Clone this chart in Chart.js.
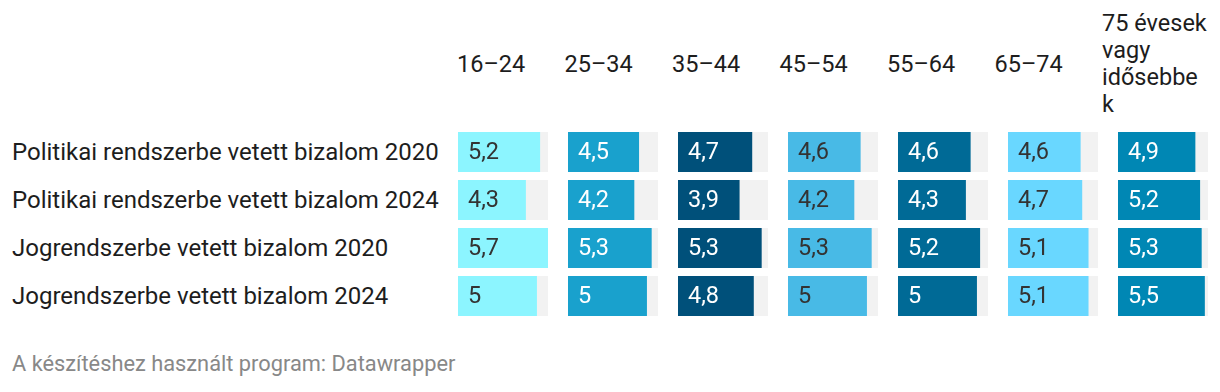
<!DOCTYPE html>
<html>
<head>
<meta charset="utf-8">
<script src="https://cdn.jsdelivr.net/npm/chart.js@4"></script>
<style>
  body { margin: 0; background: #fff; font-family: Roboto, sans-serif; color: #1d1d1d; }
  #wrap { position: relative; width: 1220px; height: 392px; overflow: hidden; }
  .rowlab { position: absolute; left: 12px; font-size: 24px; line-height: 48px; height: 48px; white-space: nowrap; }
  .head { position: absolute; top: 0; height: 128px; width: 120px; font-size: 23.5px; line-height: 27px; display: flex; align-items: center; white-space: nowrap; }
  .col { position: absolute; top: 128px; width: 90px; height: 192px; }
  #foot { position: absolute; left: 12px; top: 351px; font-size: 21.8px; line-height: 26px; color: #888; }
</style>
</head>
<body>
<div id="wrap"></div>
<script>
const rows = ['Politikai rendszerbe vetett bizalom 2020', 'Politikai rendszerbe vetett bizalom 2024', 'Jogrendszerbe vetett bizalom 2020', 'Jogrendszerbe vetett bizalom 2024'];
const groups = ['16–24', '25–34', '35–44', '45–54', '55–64', '65–74', '75 évesek vagy idősebbek'];
const v1624 = [5.2, 4.3, 5.7, 5.0];
const v2534 = [4.5, 4.2, 5.3, 5.0];
const v3544 = [4.7, 3.9, 5.3, 4.8];
const v4554 = [4.6, 4.2, 5.3, 5.0];
const v5564 = [4.6, 4.3, 5.2, 5.0];
const v6574 = [4.6, 4.7, 5.1, 5.1];
const v75 = [4.9, 5.2, 5.3, 5.5];
const colColors = ['#8cf5ff', '#19a1cd', '#00507a', '#48bae6', '#006a96', '#69d7ff', '#0087b4'];
const labelColors = ['#333333', '#ffffff', '#ffffff', '#333333', '#ffffff', '#333333', '#ffffff'];

const series = [v1624, v2534, v3544, v4554, v5564, v6574, v75];
const xMax = 5.7;

const wrap = document.getElementById('wrap');

rows.forEach((r, i) => {
  let d = document.createElement('div');
  d.className = 'rowlab';
  d.style.top = (128 + i * 48) + 'px';
  d.textContent = r;
  wrap.appendChild(d);
});

// grey track behind the bars + value labels inside them
const trackPlugin = {
  id: 'track',
  beforeDatasetsDraw(chart) {
    const ctx = chart.ctx;
    const area = chart.chartArea;
    ctx.save();
    ctx.fillStyle = '#f2f2f2';
    chart.getDatasetMeta(0).data.forEach(bar => {
      ctx.fillRect(area.left, bar.y - bar.height / 2, area.right - area.left, bar.height);
    });
    ctx.restore();
  },
  afterDatasetsDraw(chart) {
    const ctx = chart.ctx;
    const ds = chart.data.datasets[0];
    ctx.save();
    ctx.font = '23.5px Roboto';
    ctx.fillStyle = ds.labelColor;
    ctx.textBaseline = 'middle';
    chart.getDatasetMeta(0).data.forEach((bar, i) => {
      ctx.fillText(String(ds.data[i]).replace('.', ','), bar.base + 10, bar.y + 1);
    });
    ctx.restore();
  }
};

groups.forEach((g, c) => {
  const left = 458 + c * 110;
  let h = document.createElement('div');
  h.className = 'head';
  h.style.left = (457 + c * 107.5) + 'px';
  h.innerHTML = c === 6 ? '<div>75 évesek<br>vagy<br>idősebbe<br>k</div>' : '<div>' + g + '</div>';
  wrap.appendChild(h);

  let box = document.createElement('div');
  box.className = 'col';
  box.style.left = left + 'px';
  let cv = document.createElement('canvas');
  box.appendChild(cv);
  wrap.appendChild(box);

  new Chart(cv, {
    type: 'bar',
    data: {
      labels: rows,
      datasets: [{
        data: series[c],
        backgroundColor: colColors[c],
        labelColor: labelColors[c],
        barPercentage: 40 / 48,
        categoryPercentage: 1
      }]
    },
    options: {
      indexAxis: 'y',
      responsive: true,
      maintainAspectRatio: false,
      animation: false,
      layout: { padding: 0 },
      plugins: { legend: { display: false }, tooltip: { enabled: false } },
      scales: {
        x: { display: false, min: 0, max: xMax },
        y: { display: false }
      }
    },
    plugins: [trackPlugin]
  });
});

let f = document.createElement('div');
f.id = 'foot';
f.textContent = 'A készítéshez használt program: Datawrapper';
wrap.appendChild(f);
</script>
</body>
</html>
